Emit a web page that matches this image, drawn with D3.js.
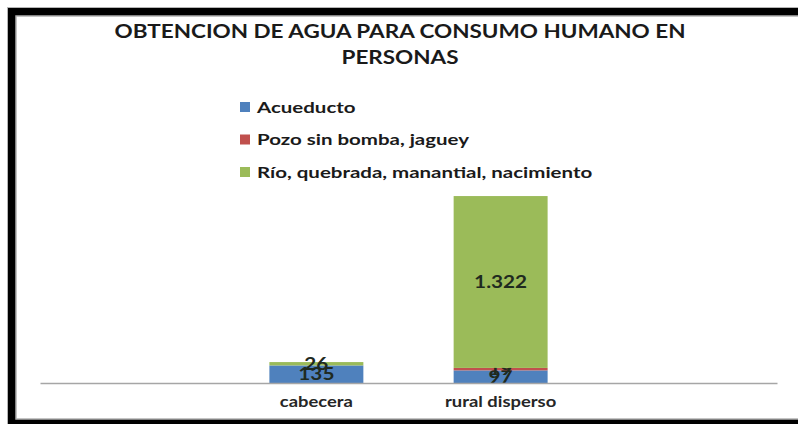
<!DOCTYPE html>
<html>
<head>
<meta charset="utf-8">
<script src="https://cdn.jsdelivr.net/npm/d3@7"></script>
<style>
  body { margin: 0; background: #fff; }
  svg { display: block; font-family: Lato, "Open Sans", sans-serif; }
</style>
</head>
<body>
<div id="chart"></div>
<script>
// categories along the x axis (Excel chart had an empty slot each side)
var categories = ["cabecera", "rural disperso"];
var seriesNames = ["Acueducto", "Pozo sin bomba, jaguey", "Río, quebrada, manantial, nacimiento"];
var acueducto = [135, 97];
var pozo = [0, 19];
var rio = [26, 1322];
var seriesColors = ["#4F81BD", "#C0504D", "#9BBB59"];

var width = 798, height = 424;
var fmt = d3.formatLocale({decimal: ",", thousands: ".", grouping: [3], currency: ["", ""]}).format(",d");

// the source picture is stretched sideways, so text gets a horizontal scale
function stretch(sel, sx) {
  sel.each(function() {
    var t = d3.select(this);
    var tx = +t.attr("x") || 0, ty = +t.attr("y") || 0;
    t.attr("x", null).attr("y", null)
     .attr("transform", "translate(" + tx + "," + ty + ") scale(" + sx + ",1)");
  });
}

var svg = d3.select("#chart").append("svg")
    .attr("width", width)
    .attr("height", height);

// frame: black band on top/left/bottom, cut off on the right
svg.append("rect")
    .attr("x", 7.5).attr("y", 7.5)
    .attr("width", 900).attr("height", 430)
    .attr("fill", "#000")
    .attr("stroke", "#b5b5b5");
svg.append("rect")
    .attr("x", 16).attr("y", 16)
    .attr("width", 900).attr("height", 403)
    .attr("fill", "#fff")
    .attr("stroke", "#b0b0b0")
    .attr("stroke-width", 1.5);

var rows = categories.map(function(c, i) {
  return {cat: c, Acueducto: acueducto[i], Pozo: pozo[i], Rio: rio[i]};
});
var keys = ["Acueducto", "Pozo", "Rio"];
var stack = d3.stack().keys(keys)(rows);

var x = d3.scaleBand()
    .domain(["_l"].concat(categories, ["_r"]))
    .range([40, 777])
    .paddingInner(0.49)
    .paddingOuter(0.245);

var y = d3.scaleLinear()
    .domain([0, 1600])
    .range([383, 175]);

// bars
var layer = svg.append("g").selectAll("g")
    .data(stack)
  .enter().append("g")
    .attr("fill", function(d, i) { return seriesColors[i]; });

layer.selectAll("rect")
    .data(function(d) { return d; })
  .enter().append("rect")
    .attr("x", function(d) { return x(d.data.cat); })
    .attr("y", function(d) { return y(d[1]); })
    .attr("width", x.bandwidth())
    .attr("height", function(d) { return y(d[0]) - y(d[1]); });

// axis line
var xAxis = svg.append("g")
    .attr("transform", "translate(0,383)")
    .call(d3.axisBottom(x).tickSize(0).tickPadding(13)
      .tickFormat(function(d) { return d.charAt(0) === "_" ? "" : d; }));
xAxis.select(".domain").attr("stroke", "#a6a6a6").attr("stroke-width", 1.5);
xAxis.selectAll("text")
    .attr("font-family", "Lato, sans-serif")
    .attr("font-size", 16)
    .attr("font-weight", "bold")
    .attr("fill", "#262626")
    .call(stretch, 1.15);

// data labels
layer.selectAll("text")
    .data(function(d) { return d.filter(function(p) { return p[1] - p[0] > 0; }); })
  .enter().append("text")
    .attr("x", function(d) { return x(d.data.cat) + x.bandwidth() / 2; })
    .attr("y", function(d) { return (y(d[0]) + y(d[1])) / 2; })
    .attr("dy", "0.35em")
    .attr("text-anchor", "middle")
    .attr("font-size", 17)
    .attr("font-weight", "bold")
    .attr("fill", "#1f2a1f")
    .text(function(d) { return fmt(d[1] - d[0]); })
    .call(stretch, 1.22);

// legend
var legend = svg.append("g").selectAll("g")
    .data(seriesNames)
  .enter().append("g")
    .attr("transform", function(d, i) { return "translate(240," + (107 + i * 32.5) + ")"; });
legend.append("rect")
    .attr("x", 0).attr("y", -5)
    .attr("width", 10).attr("height", 10)
    .attr("fill", function(d, i) { return seriesColors[i]; });
legend.append("text")
    .attr("x", 17)
    .attr("dy", "0.35em")
    .attr("font-size", 16)
    .attr("font-weight", "bold")
    .attr("fill", "#1a1a1a")
    .text(function(d) { return d; })
    .call(stretch, 1.28);

// title
var title1 = svg.append("text")
    .attr("x", 400).attr("y", 38)
    .attr("text-anchor", "middle")
    .attr("font-size", 18)
    .attr("font-weight", "bold")
    .attr("fill", "#1a1a1a")
    .text("OBTENCION DE AGUA PARA CONSUMO HUMANO EN")
    .call(stretch, 1.25);
var title2 = svg.append("text")
    .attr("x", 400).attr("y", 64)
    .attr("text-anchor", "middle")
    .attr("font-size", 18)
    .attr("font-weight", "bold")
    .attr("fill", "#1a1a1a")
    .text("PERSONAS")
    .call(stretch, 1.25);
</script>
</body>
</html>
